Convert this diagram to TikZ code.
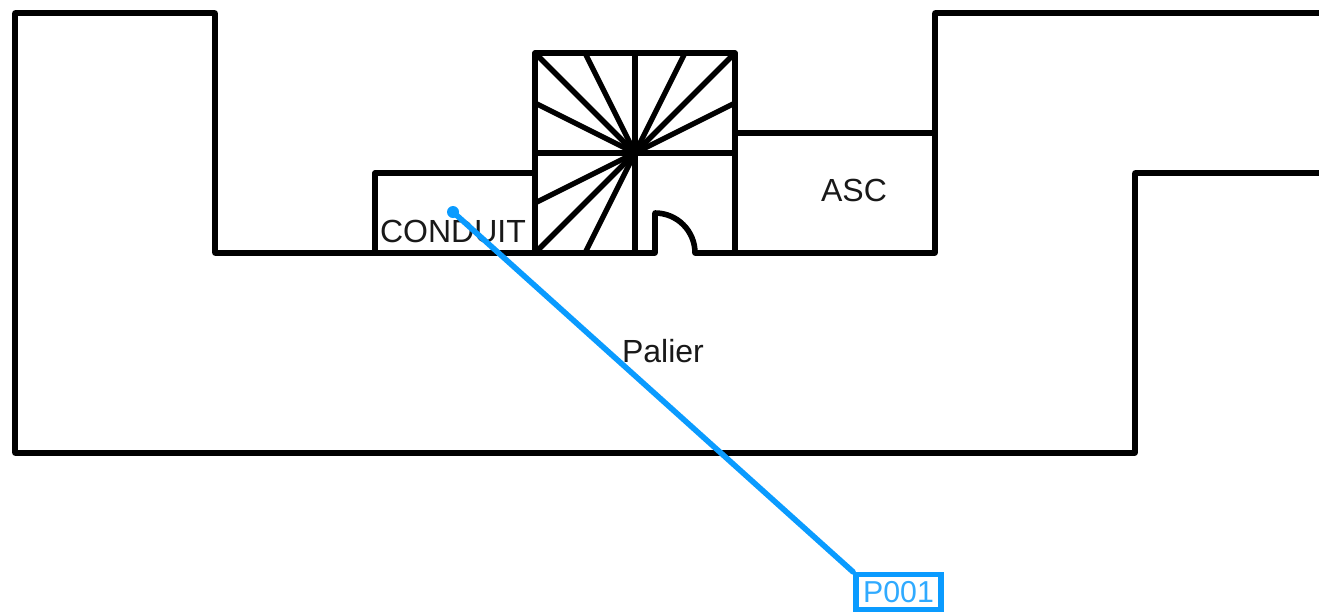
\documentclass[tikz,border=0pt]{standalone}
\usepackage{fontspec}
\setmainfont{Liberation Sans}
\definecolor{pinblue}{HTML}{0A9BFF}
\tikzset{
  wall/.style={draw=black,line width=4.2pt,line cap=round,line join=round},
  thin wall/.style={draw=black,line width=4pt,line cap=butt},
  roomlabel/.style={font=\fontsize{24}{24}\selectfont,text=black!90,inner sep=0pt,anchor=center},
  pinlabel/.style={draw=pinblue,line width=4.2pt,fill=white,text=pinblue!85,font=\fontsize{22.7}{24}\selectfont,inner sep=0pt,minimum width=64pt,minimum height=26pt,anchor=center},
  pinline/.style={draw=pinblue,line width=4.2pt,line cap=round},
}
\begin{document}
\begin{tikzpicture}[x=0.75pt,y=-0.75pt]
\useasboundingbox (0,0) rectangle (1319,611);
\fill[white] (0,0) rectangle (1319,611);
\coordinate (c) at (635,153);
% outer walls
\draw[wall] (1319,173) -- (1135,173) -- (1135,453) -- (15,453) -- (15,13) -- (215,13) -- (215,253) -- (655,253) -- (655,213) arc[start angle=-90,end angle=0,radius=40] -- (935,253) -- (935,13) -- (1319,13);
% conduit, lift
\draw[wall] (375,253) -- (375,173) -- (535,173);
\draw[wall] (735,133) -- (935,133);
% stair well (open below the door)
\draw[wall] (535,253) -- (535,53) -- (735,53) -- (735,253);
\draw[thin wall] (635,53) -- (635,253);
\draw[thin wall] (535,153) -- (735,153);
\foreach \p in {(535,53),(585,53),(685,53),(735,53),(535,103),(735,103),(535,203),(535,253),(585,253)}
  \draw[thin wall] \p -- (c);
% labels
\node[roomlabel] (conduit) at (453,231) {CONDUIT};
\node[roomlabel] (asc) at (854,190) {ASC};
\node[roomlabel] (palier) at (663,351) {Palier};
% pin
\coordinate (pinstart) at (453,212);
\node[pinlabel] (pin) at (898.5,592) {P001};
\draw[pinline] (pinstart) -- (pin.north west);
\fill[pinblue] (pinstart) circle[radius=6];
\end{tikzpicture}
\end{document}
